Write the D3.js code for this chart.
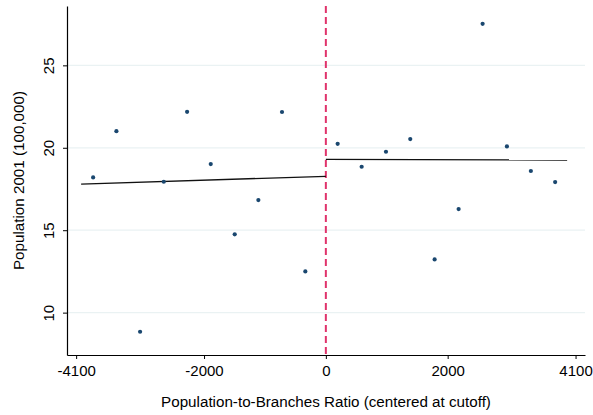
<!DOCTYPE html>
<html>
<head>
<meta charset="utf-8">
<script src="https://cdn.jsdelivr.net/npm/d3@7"></script>
<style>
  body { margin: 0; background: #fff; }
  text { font-family: "Liberation Sans", Arial, sans-serif; fill: #000; }
</style>
</head>
<body>
<div id="chart"></div>
<script>
// binned means, left of cutoff
var leftX = [-3821, -3439, -3050, -2661, -2278, -1890, -1496, -1108, -720, -337];
var leftY = [18.20, 21.01, 8.84, 17.94, 22.18, 19.01, 14.75, 16.83, 22.17, 12.50];
// binned means, right of cutoff
var rightX = [194, 588, 987, 1386, 1786, 2180, 2574, 2973, 3366, 3765];
var rightY = [20.24, 18.85, 19.76, 20.53, 13.23, 16.28, 27.52, 20.08, 18.59, 17.92];
// linear fits on each side
var leftFit = [[-4018, 17.80], [0, 18.27]];
var rightFit = [[0, 19.30], [3962, 19.26]];

var xTicks = [-4100, -2000, 0, 2000, 4100];
var yTicks = [10, 15, 20, 25];

var width = 593, height = 415;
var margin = {top: 6, right: 8, bottom: 60, left: 67};

var svg = d3.select("#chart").append("svg")
    .attr("width", width)
    .attr("height", height);

var x = d3.scaleLinear()
    .domain([-4250, 4255])
    .range([margin.left, width - margin.right]);

var y = d3.scaleLinear()
    .domain([7.43, 28.6])
    .range([height - margin.bottom, margin.top]);

// grid lines
svg.append("g")
    .selectAll("line")
    .data(yTicks)
    .enter().append("line")
    .attr("x1", margin.left)
    .attr("x2", width - margin.right)
    .attr("y1", function(d) { return y(d); })
    .attr("y2", function(d) { return y(d); })
    .style("stroke", "#eaf2f3")
    .style("stroke-width", 1.3);

// y axis
var yAxis = svg.append("g")
    .attr("transform", "translate(" + margin.left + ",0)")
    .call(d3.axisLeft(y).tickValues(yTicks).tickSize(4).tickSizeOuter(0));
yAxis.select(".domain").style("stroke", "#000").style("stroke-width", 1.2);
yAxis.selectAll(".tick line").style("stroke", "#000");
yAxis.selectAll(".tick text")
    .attr("x", null).attr("dy", null)
    .attr("transform", "translate(-13,0) rotate(-90)")
    .attr("text-anchor", "middle")
    .attr("y", 0)
    .style("font-size", "15px")
    .style("font-family", "'Liberation Sans', Arial, sans-serif");

// x axis
var xAxis = svg.append("g")
    .attr("transform", "translate(0," + (height - margin.bottom) + ")")
    .call(d3.axisBottom(x).tickValues(xTicks).tickSize(4).tickSizeOuter(0)
        .tickFormat(function(d) { return d < 0 ? "-" + Math.abs(d) : d; }));
xAxis.select(".domain").style("stroke", "#000").style("stroke-width", 1.2);
xAxis.selectAll(".tick line").style("stroke", "#000");
xAxis.selectAll(".tick text")
    .attr("y", 10)
    .style("font-size", "15px")
    .style("font-family", "'Liberation Sans', Arial, sans-serif");

// cutoff line
svg.append("line")
    .attr("x1", x(0)).attr("x2", x(0))
    .attr("y1", margin.top)
    .attr("y2", height - margin.bottom)
    .style("stroke", "#e0336b")
    .style("stroke-width", 2)
    .style("stroke-dasharray", "7,4");

// fitted lines
var line = d3.line()
    .x(function(d) { return x(d[0]); })
    .y(function(d) { return y(d[1]); });

[leftFit, rightFit].forEach(function(f) {
    svg.append("path")
        .attr("d", line(f))
        .style("fill", "none")
        .style("stroke", "#111")
        .style("stroke-width", 1.3);
});

// points
var pts = leftX.map(function(v, i) { return [v, leftY[i]]; })
    .concat(rightX.map(function(v, i) { return [v, rightY[i]]; }));

svg.append("g")
    .selectAll("circle")
    .data(pts)
    .enter().append("circle")
    .attr("cx", function(d) { return x(d[0]); })
    .attr("cy", function(d) { return y(d[1]); })
    .attr("r", 2.1)
    .style("fill", "#1a476f");

// axis titles
svg.append("text")
    .attr("x", (margin.left + width - margin.right) / 2)
    .attr("y", 407)
    .attr("text-anchor", "middle")
    .style("font-size", "15.2px")
    .text("Population-to-Branches Ratio (centered at cutoff)");

svg.append("text")
    .attr("transform", "translate(24," + ((margin.top + height - margin.bottom) / 2) + ") rotate(-90)")
    .attr("text-anchor", "middle")
    .style("font-size", "15.2px")
    .text("Population 2001 (100,000)");
</script>
</body>
</html>
